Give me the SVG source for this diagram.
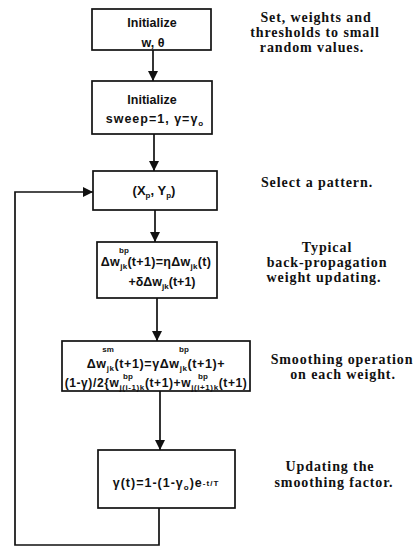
<svg xmlns="http://www.w3.org/2000/svg" width="414" height="550" viewBox="0 0 414 550">
<style>
.box{fill:#fff;stroke:#111;stroke-width:1.7}
.bt{font-family:"Liberation Sans",Arial,sans-serif;font-weight:bold;font-size:12.5px;fill:#111;text-anchor:middle}
.s{font-size:8px}
.lab{font-family:"Liberation Serif","Times New Roman",serif;font-weight:bold;font-size:14px;fill:#111;text-anchor:middle;letter-spacing:0.9px}
.con{fill:none;stroke:#111;stroke-width:1.7}
</style>
<defs>
<marker id="ah" viewBox="0 0 10 10" refX="10" refY="5" markerWidth="10" markerHeight="10" markerUnits="userSpaceOnUse" orient="auto">
<path d="M0,0 L10,5 L0,10 z" fill="#111"/>
</marker>
</defs>
<g id="connectors">
<line class="con" x1="153" y1="50" x2="153" y2="81" marker-end="url(#ah)"/>
<line class="con" x1="154" y1="134" x2="154" y2="171" marker-end="url(#ah)"/>
<line class="con" x1="155" y1="210" x2="155" y2="242" marker-end="url(#ah)"/>
<line class="con" x1="157" y1="298" x2="157" y2="341" marker-end="url(#ah)"/>
<line class="con" x1="160" y1="391" x2="160" y2="450" marker-end="url(#ah)"/>
<polyline class="con" points="159,508 159,545 15,545 15,192 93,192" marker-end="url(#ah)"/>
</g>
<g id="n1">
<rect class="box" x="92" y="9" width="119" height="41"/>
<text class="bt" x="152" y="27">Initialize</text>
<text class="bt" x="153" y="47">w, θ</text>
</g>
<g id="n2">
<rect class="box" x="92" y="81" width="120" height="53"/>
<text class="bt" x="152" y="104">Initialize</text>
<text class="bt" x="155" y="123" style="letter-spacing:1px">sweep=1, γ=γ<tspan class="s" dy="3">o</tspan></text>
</g>
<g id="n3">
<rect class="box" x="93" y="171" width="124" height="39"/>
<text class="bt" x="154" y="195" style="font-size:13px">(X<tspan class="s" dy="3">p</tspan><tspan dy="-3">, Y</tspan><tspan class="s" dy="3">p</tspan><tspan dy="-3">)</tspan></text>
</g>
<g id="n4">
<rect class="box" x="97" y="242" width="120" height="56"/>
<text class="bt s" x="124" y="253">bp</text>
<text class="bt" x="156" y="266" style="letter-spacing:0.3px">Δw<tspan class="s" dy="3">jk</tspan><tspan dy="-3">(t+1)=ηΔw</tspan><tspan class="s" dy="3">jk</tspan><tspan dy="-3">(t)</tspan></text>
<text class="bt" x="162" y="286">+δΔw<tspan class="s" dy="3">jk</tspan><tspan dy="-3">(t+1)</tspan></text>
</g>
<g id="n5">
<rect class="box" x="62" y="341" width="188" height="50"/>
<text class="bt s" x="108" y="352">sm</text>
<text class="bt s" x="184" y="352">bp</text>
<text class="bt" x="156" y="368" style="letter-spacing:0.6px">Δw<tspan class="s" dy="3">jk</tspan><tspan dy="-3">(t+1)=γΔw</tspan><tspan class="s" dy="3">jk</tspan><tspan dy="-3">(t+1)+</tspan></text>
<text class="bt s" x="128" y="379">bp</text>
<text class="bt s" x="203" y="379">bp</text>
<text class="bt" x="156" y="387" style="font-size:12px;letter-spacing:0.6px">(1-γ)/2{w<tspan class="s" dy="3">j(i-1)k</tspan><tspan dy="-3">(t+1)+w</tspan><tspan class="s" dy="3">j(i+1)k</tspan><tspan dy="-3">(t+1)</tspan></text>
</g>
<g id="n6">
<rect class="box" x="98" y="450" width="137" height="58"/>
<text class="bt" x="166" y="487" style="letter-spacing:1px">γ(t)=1-(1-γ<tspan class="s" dy="3">o</tspan><tspan dy="-3">)e</tspan><tspan class="s" dy="-1">-t/T</tspan></text>
</g>
<g id="labels">
<text class="lab" x="316" y="22">Set, weights and</text>
<text class="lab" x="315" y="37">thresholds to small</text>
<text class="lab" x="312" y="52">random values.</text>
<text class="lab" x="317" y="187">Select a pattern.</text>
<text class="lab" x="327" y="252">Typical</text>
<text class="lab" x="327" y="267">back-propagation</text>
<text class="lab" x="324" y="282">weight updating.</text>
<text class="lab" x="342" y="364">Smoothing operation</text>
<text class="lab" x="343" y="379">on each weight.</text>
<text class="lab" x="330" y="471">Updating the</text>
<text class="lab" x="334" y="487">smoothing factor.</text>
</g>
</svg>
